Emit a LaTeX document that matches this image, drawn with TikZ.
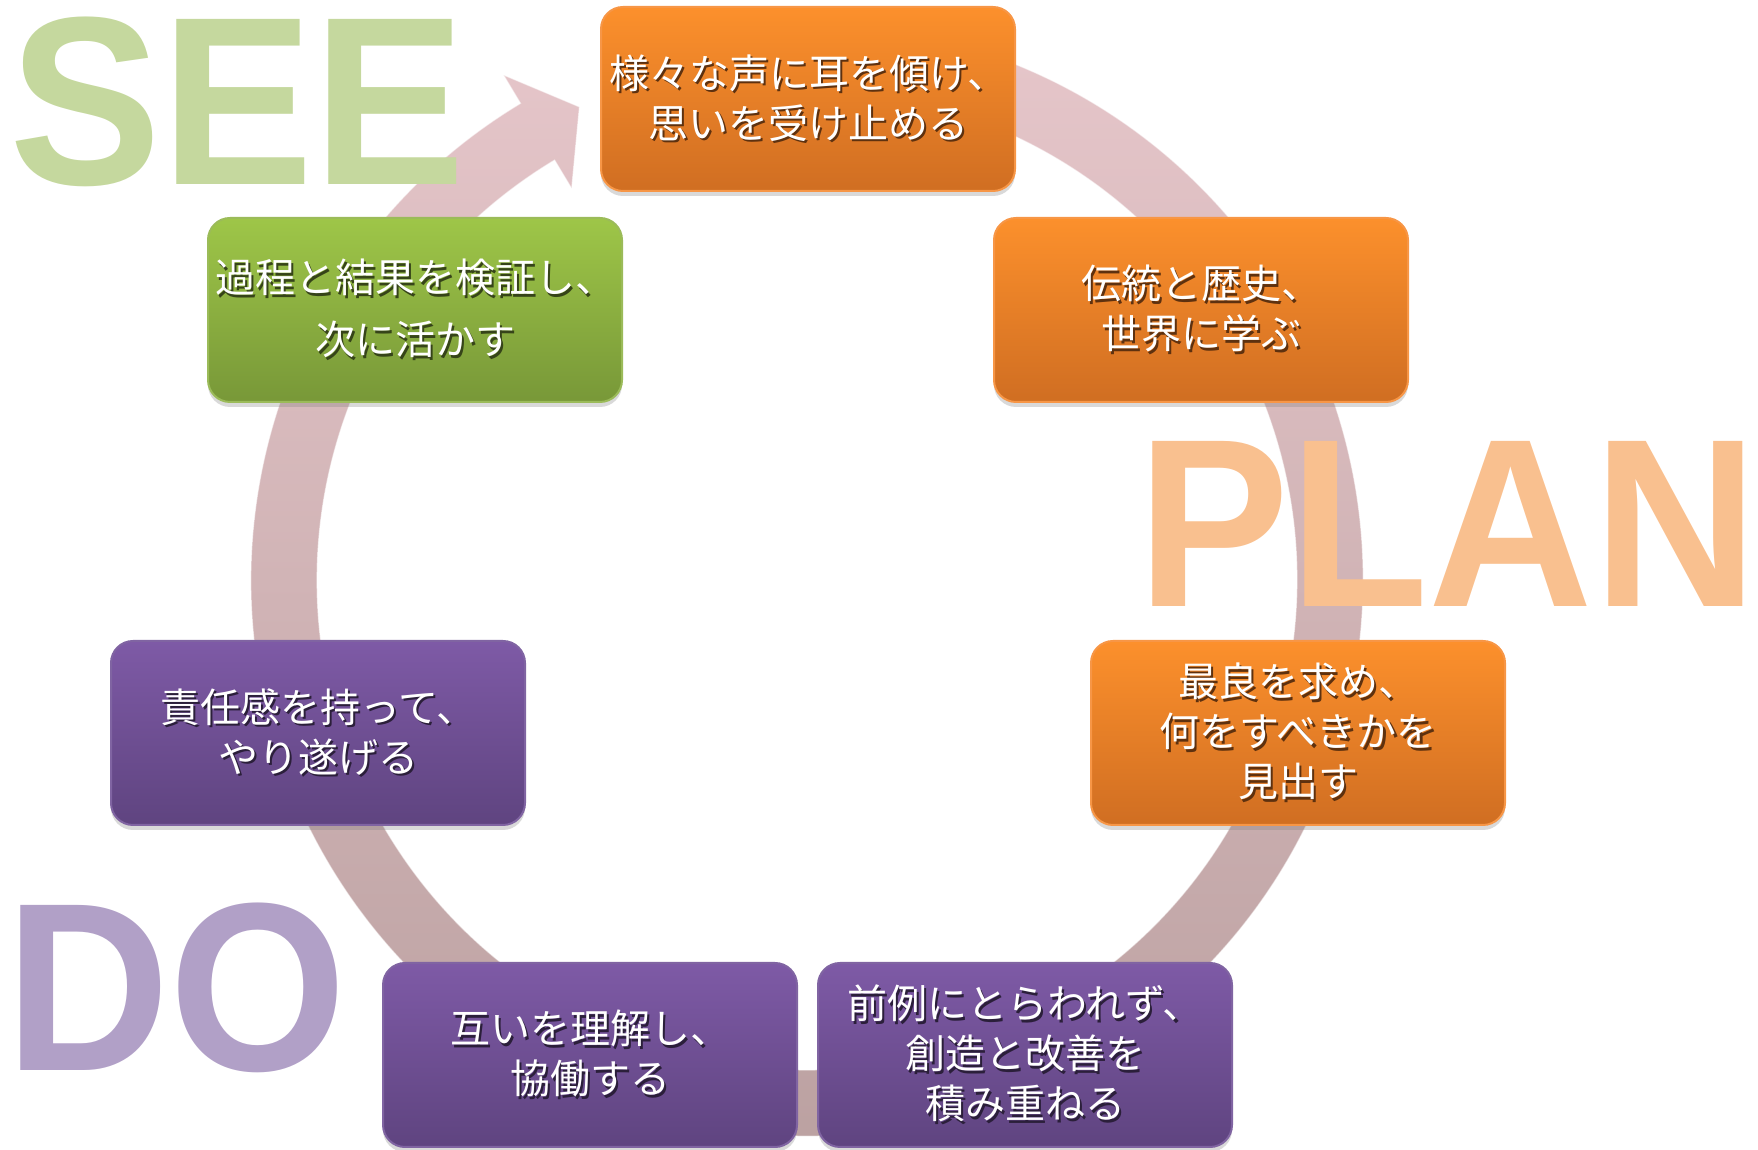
\documentclass[tikz,border=0pt]{standalone}
\usepackage{fontspec}
\setmainfont{Liberation Sans}
\newfontfamily\wordfont[FakeStretch=0.95]{Liberation Sans}
\newfontfamily\jpfont{Noto Sans CJK JP}
\usetikzlibrary{shadows}

\definecolor{planTop}{RGB}{252,144,44}
\definecolor{planBot}{RGB}{208,110,34}
\definecolor{planEdge}{RGB}{247,150,70}
\definecolor{doTop}{RGB}{126,90,166}
\definecolor{doBot}{RGB}{95,68,128}
\definecolor{doEdge}{RGB}{128,100,162}
\definecolor{seeTop}{RGB}{158,198,72}
\definecolor{seeBot}{RGB}{120,152,56}
\definecolor{seeEdge}{RGB}{155,187,89}
\definecolor{ringTop}{RGB}{230,198,202}
\definecolor{ringBot}{RGB}{186,160,160}
\definecolor{seeWord}{RGB}{197,216,158}
\definecolor{planWord}{RGB}{249,192,143}
\definecolor{doWord}{RGB}{177,160,199}
\colorlet{txtshadow}{black}

% white text with a dark copy behind it
\newcommand{\shtxt}[1]{\makebox[0pt][l]{\kern2.5pt\raisebox{-2.5pt}{\textcolor{txtshadow}{#1}}}#1}

\begin{document}
\begin{tikzpicture}[
            x = 1pt, y = 1pt, % one unit = one pixel of the slide
            semithick
        ]

        \tikzstyle{cyclebox}=[
            rectangle,
            rounded corners = 22pt,
            minimum width = 414pt,
            minimum height = 184pt,
            line width = 2pt,
            text = white,
            align = center,
            font = \jpfont\fontsize{40}{50}\selectfont,
            drop shadow = {opacity = .3, shadow xshift = 0pt, shadow yshift = -5pt}
        ]
        \tikzstyle{planbox}=[cyclebox, draw = planEdge, top color = planTop, bottom color = planBot,
            execute at begin node = {\colorlet{txtshadow}{planBot!45!black}}]
        \tikzstyle{dobox}=[cyclebox, draw = doEdge, top color = doTop, bottom color = doBot,
            execute at begin node = {\colorlet{txtshadow}{doBot!45!black}}]
        \tikzstyle{seebox}=[cyclebox, draw = seeEdge, top color = seeTop, bottom color = seeBot,
            execute at begin node = {\colorlet{txtshadow}{seeBot!45!black}}]
        \tikzstyle{bigword}=[
            anchor = base west,
            inner sep = 0pt,
            text height = 176pt,
            text depth = 0pt,
            font = \wordfont\bfseries\fontsize{240}{240}\selectfont
        ]

        \useasboundingbox (0, 0) rectangle (1758, 1150);

        % the cycle arrow
        \begin{scope}[shift = {(807, 570)}]
            \shade[top color = ringTop, bottom color = ringBot,
                   draw = white, draw opacity = .5, line width = 1pt]
                (80:556pt) arc[start angle = 80, end angle = -239, radius = 556pt]
                -- (121:589pt) -- (115.7:525pt) -- (121:457pt) -- (121:490pt)
                arc[start angle = -239, end angle = 80, radius = 490pt] -- cycle;
        \end{scope}

        % phase words
        \node[bigword, text = seeWord] (see) at (9, 965) {SEE};
        \node[bigword, text = planWord] (plan) at (1137, 543) {PLAN};
        \node[bigword, text = doWord] (do) at (5, 79) {DO};

        % plan
        \node[planbox] (listen) at (808, 1051) {\shtxt{様々な声に耳を傾け、}\\\shtxt{思いを受け止める}};
        \node[planbox] (learn) at (1201, 840) {\shtxt{伝統と歴史、}\\\shtxt{世界に学ぶ}};
        \node[planbox] (best) at (1298, 417) {\shtxt{最良を求め、}\\\shtxt{何をすべきかを}\\\shtxt{見出す}};

        % do
        \node[dobox] (create) at (1025, 95) {\shtxt{前例にとらわれず、}\\\shtxt{創造と改善を}\\\shtxt{積み重ねる}};
        \node[dobox] (cooperate) at (590, 95) {\shtxt{互いを理解し、}\\\shtxt{協働する}};
        \node[dobox] (achieve) at (318, 417) {\shtxt{責任感を持って、}\\\shtxt{やり遂げる}};

        % see
        \node[seebox] (review) at (415, 840) {\shtxt{過程と結果を検証し、}\\[12pt]\shtxt{次に活かす}};

\end{tikzpicture}
\end{document}
